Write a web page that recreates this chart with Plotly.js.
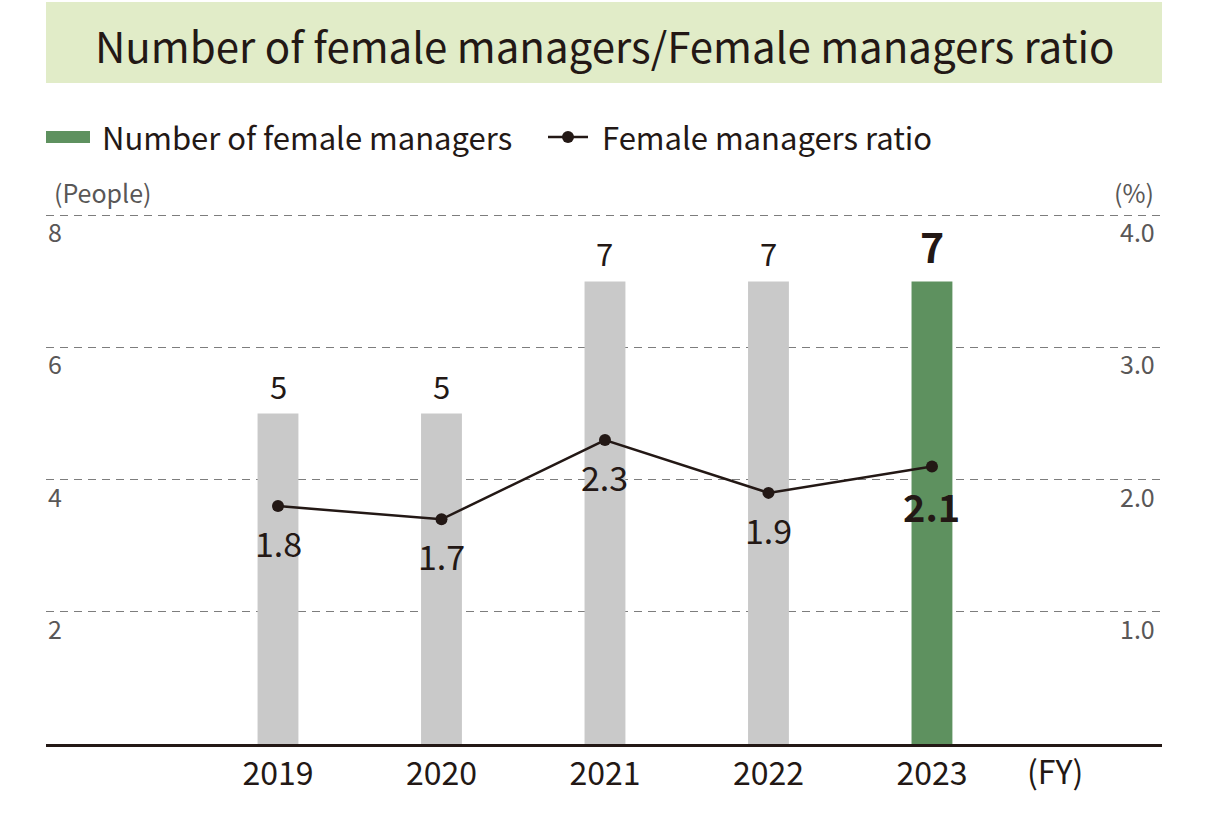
<!DOCTYPE html>
<html>
<head>
<meta charset="utf-8">
<script src="https://cdn.plot.ly/plotly-3.0.1.min.js"></script>
<style>html,body{margin:0;padding:0;background:#fff;}#chart{width:1211px;height:814px;}</style>
</head>
<body>
<div id="chart"></div>
<script>
const years = [2019, 2020, 2021, 2022, 2023];
const yearLabels = ['2019', '2020', '2021', '2022', '2023'];
const managers = [5, 5, 7, 7, 7];
const ratio = [1.8, 1.7, 2.3, 1.9, 2.1];
const leftTicks = [2, 4, 6, 8];
const rightTicks = [1.0, 2.0, 3.0, 4.0];

const FONT = '"Noto Sans CJK JP", "Noto Sans", sans-serif';
const DARK = '#231815';
const GRAY_TXT = '#595757';
const last = years.length - 1;

const barColors = years.map((y, i) => i === last ? '#5e915f' : '#c9c9c9');

const bars = {
  type: 'bar', x: years, y: managers, width: 0.25,
  marker: {color: barColors, line: {width: 0}},
  name: 'Number of female managers', showlegend: false, hoverinfo: 'skip'
};
const line = {
  type: 'scatter', mode: 'lines+markers', x: years, y: ratio, yaxis: 'y2',
  line: {color: DARK, width: 2.5}, marker: {color: DARK, size: 12},
  name: 'Female managers ratio', showlegend: false, hoverinfo: 'skip'
};

const annotations = [];
// bar value labels
years.forEach((yr, i) => {
  const bold = i === last;
  annotations.push({
    x: yr, y: managers[i], xref: 'x', yref: 'y', showarrow: false,
    text: bold ? '<b>' + managers[i] + '</b>' : String(managers[i]),
    yanchor: 'bottom', yshift: bold ? 4 : 4,
    font: {family: FONT, size: bold ? 41 : 31, color: DARK}
  });
});
// ratio labels
years.forEach((yr, i) => {
  const bold = i === last;
  annotations.push({
    x: yr, y: ratio[i], xref: 'x', yref: 'y2', showarrow: false,
    text: bold ? '<b>' + ratio[i].toFixed(1) + '</b>' : ratio[i].toFixed(1),
    yanchor: 'top', yshift: bold ? -10 : -10,
    font: {family: FONT, size: bold ? 38 : 34, color: DARK}
  });
});
// left tick labels
leftTicks.forEach(v => annotations.push({
  x: 0, xref: 'paper', xanchor: 'left', y: v, yref: 'y', yanchor: 'top', yshift: 4,
  showarrow: false, text: String(v), font: {family: FONT, size: 25, color: GRAY_TXT}
}));
// right tick labels
rightTicks.forEach(v => annotations.push({
  x: 1, xref: 'paper', xanchor: 'right', xshift: -5, y: v, yref: 'y2', yanchor: 'top', yshift: 4,
  showarrow: false, text: v.toFixed(1), font: {family: FONT, size: 25, color: GRAY_TXT}
}));
// unit labels
annotations.push({x: 0, xref: 'paper', xanchor: 'left', xshift: 6, y: 8, yref: 'y', yanchor: 'bottom', yshift: 3,
  showarrow: false, text: '(People)', font: {family: FONT, size: 25, color: GRAY_TXT}});
annotations.push({x: 1, xref: 'paper', xanchor: 'right', xshift: -6, y: 4, yref: 'y2', yanchor: 'bottom', yshift: 3,
  showarrow: false, text: '(%)', font: {family: FONT, size: 25, color: GRAY_TXT}});
// FY label
annotations.push({x: 2023.75, xref: 'x', y: 0, yref: 'paper', yanchor: 'top', yshift: -1,
  showarrow: false, text: '(FY)', font: {family: FONT, size: 32, color: DARK}});
// title
annotations.push({x: 0.5, xref: 'paper', y: 45, yref: 'paper', yanchor: 'middle', showarrow: false,
  text: 'Number of female managers/Female managers ratio', font: {family: FONT, size: 42, color: DARK}});
// legend texts
annotations.push({x: 102, xref: 'paper', y: 0, yref: 'paper', yanchor: 'middle', showarrow: false, text: 'Number of female managers',
  font: {family: FONT, size: 31, color: DARK}});
annotations.push({x: 602, xref: 'paper', y: 0, yref: 'paper', yanchor: 'middle', showarrow: false, text: 'Female managers ratio',
  font: {family: FONT, size: 31, color: DARK}});

const layout = {
  width: 1211, height: 814,
  margin: {l: 46, r: 49, t: 214, b: 70, pad: 0},
  paper_bgcolor: '#ffffff', plot_bgcolor: '#ffffff',
  font: {family: FONT, color: DARK},
  showlegend: false,
  xaxis: {
    range: [2017.581, 2024.407], tickmode: 'array', tickvals: years, ticktext: yearLabels,
    tickfont: {family: FONT, size: 32, color: DARK}, ticks: '', showgrid: false, zeroline: false,
    showline: true, linecolor: DARK, linewidth: 2.5, fixedrange: true
  },
  yaxis: {
    range: [0, 8.02], tickmode: 'array', tickvals: leftTicks, showticklabels: false,
    showgrid: true, gridcolor: '#7d7d7d', gridwidth: 1.2, griddash: '8px,6px',
    zeroline: false, showline: false, ticks: '', fixedrange: true
  },
  yaxis2: {
    range: [0, 4.01], overlaying: 'y', side: 'right', showgrid: false, showticklabels: false,
    zeroline: false, showline: false, ticks: '', fixedrange: true
  },
  shapes: [
    {type: 'rect', xref: 'paper', yref: 'paper', x0: 0, x1: 1, y0: 0, y1: 1, fillcolor: '#e1ecc8', line: {width: 0}, layer: 'below'},
    {type: 'rect', xref: 'paper', yref: 'paper', x0: 0, x1: 1, y0: 0, y1: 1, fillcolor: '#5e915f', line: {width: 0}},
    {type: 'line', xref: 'paper', yref: 'paper', x0: 0, x1: 1, y0: 0, y1: 0, line: {color: DARK, width: 2.5}},
    {type: 'circle', xref: 'paper', yref: 'paper', x0: 0, x1: 1, y0: 0, y1: 1, fillcolor: DARK, line: {width: 0}}
  ],
  annotations: annotations
};

// convert pixel placements for header/legend elements into paper coords
const W = 1211, H = 814, L = 46, R = 49, T = 214, B = 70;
const pw = W - L - R, ph = H - T - B;
const px = x => (x - L) / pw;
const py = y => (H - B - y) / ph;
Object.assign(layout.shapes[0], {x0: px(46), x1: px(1162), y0: py(83), y1: py(2)});
Object.assign(layout.shapes[1], {x0: px(46), x1: px(90), y0: py(143), y1: py(131)});
Object.assign(layout.shapes[2], {x0: px(548), x1: px(588), y0: py(137), y1: py(137)});
Object.assign(layout.shapes[3], {x0: px(562), x1: px(574), y0: py(143), y1: py(131)});
const n = annotations.length;
annotations[n - 3].y = py(45);
annotations[n - 2].x = px(100); annotations[n - 2].xanchor = 'left'; annotations[n - 2].y = py(137);
annotations[n - 1].x = px(600); annotations[n - 1].xanchor = 'left'; annotations[n - 1].y = py(137);

Plotly.newPlot('chart', [bars, line], layout, {displayModeBar: false, staticPlot: true});
</script>
</body>
</html>
